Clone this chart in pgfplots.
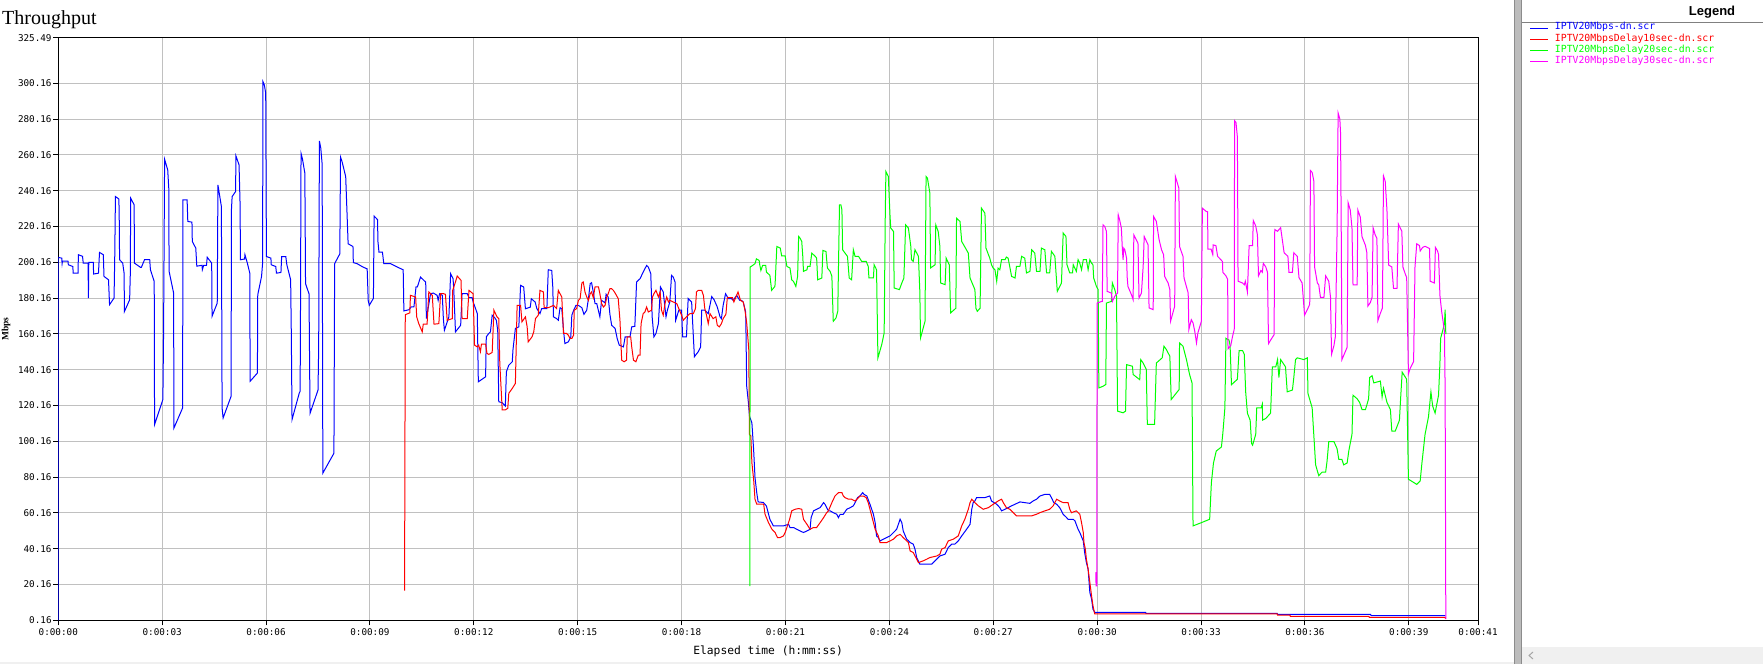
\documentclass[border=0pt]{standalone}
\usepackage{fontspec}
\setmainfont{Liberation Serif}
\newfontfamily\monofont{DejaVu Sans Mono}
\newfontfamily\sansfont{Liberation Sans}
\usepackage{pgfplots}
\pgfplotsset{compat=1.18}
\definecolor{gridgray}{RGB}{192,192,192}
\definecolor{sepgray}{RGB}{188,188,188}
\definecolor{sepdark}{RGB}{140,140,140}
\definecolor{pblue}{RGB}{0,0,255}
\definecolor{pred}{RGB}{255,0,0}
\definecolor{pgreen}{RGB}{0,255,0}
\definecolor{pmag}{RGB}{255,0,255}
\newcommand\tickfont{\monofont\fontsize{9.3bp}{11bp}\selectfont}
\newcommand\legtextfont{\monofont\fontsize{9.8bp}{11bp}\selectfont}
\begin{document}
\begin{tikzpicture}[x=1bp,y=1bp]
\path[use as bounding box] (0,0) rectangle (1763,664);
\fill[white] (0,0) rectangle (1763,664);
\fill[black!6] (0,0) rectangle (1514,2);
% legend pane
\fill[sepgray] (1514,0) rectangle (1522,664);
\draw[sepdark, line width=1bp] (1514.5,0) -- (1514.5,664);
\draw[sepdark, line width=1bp] (1521.5,0) -- (1521.5,664);
\fill[black!6] (1522,0) rectangle (1763,17);
\draw[black!35, line width=1bp] (1533,12) -- (1529,8.5) -- (1533,5);
\draw[black!50, line width=1bp] (1522,641.3) -- (1763,641.3);
\node[font=\sansfont\bfseries\fontsize{13bp}{15bp}\selectfont, anchor=base] at (1712,648.5) {Legend};
\node[font=\fontsize{20bp}{24bp}\selectfont, anchor=base west, inner sep=0pt] at (2,639) {Throughput};
\begin{axis}[
  at={(58.3bp,43.7bp)}, anchor=south west, scale only axis,
  width=1419.7bp, height=582.3bp,
  xmin=0, xmax=41, ymin=0.16, ymax=325.49,
  axis line style={black, line width=1bp},
  grid=major, grid style={gridgray, line width=1bp},
  xtick={0,3,6,9,12,15,18,21,24,27,30,33,36,39,41},
  xticklabels={0:00:00,0:00:03,0:00:06,0:00:09,0:00:12,0:00:15,0:00:18,0:00:21,0:00:24,0:00:27,0:00:30,0:00:33,0:00:36,0:00:39,0:00:41},
  ytick={0.16,20.16,40.16,60.16,80.16,100.16,120.16,140.16,160.16,180.16,200.16,220.16,240.16,260.16,280.16,300.16,325.49},
  yticklabels={0.16,20.16,40.16,60.16,80.16,100.16,120.16,140.16,160.16,180.16,200.16,220.16,240.16,260.16,280.16,300.16,325.49},
  tick align=outside, tick pos=left, major tick length=5bp,
  tick style={black, line width=1bp},
  ticklabel style={font=\tickfont},
  yticklabel style={anchor=east, inner sep=0pt, xshift=-1.5bp},
  xticklabel style={anchor=north, inner sep=0pt, yshift=-3bp},
  xlabel={Elapsed time (h:mm:ss)},
  xlabel style={font=\monofont\fontsize{11.3bp}{13bp}\selectfont, at={(axis description cs:0.5,0)}, anchor=center, yshift=-31bp},
  ylabel={Mbps},
  ylabel style={font=\bfseries\fontsize{9.5bp}{11bp}\selectfont, at={(axis description cs:-0.0368,0.5)}, anchor=center, rotate=0},
  legend style={at={(axis description cs:1.0366,1.0266)}, anchor=north west, draw=none, fill=none,
    inner sep=0pt, outer sep=0pt, font=\legtextfont, row sep=0pt,
    nodes={inner sep=0pt, text height=7.5bp, text depth=3.6bp},
    /tikz/every odd column/.append style={column sep=6bp}},
  legend cell align=left,
  legend image code/.code={\draw[#1, line width=1bp] (0bp,0bp) -- (18bp,0bp);},
  every axis plot/.append style={line width=1bp, line join=miter},
]
% blue
\addplot[pblue, sharp plot] coordinates {
(0,0.16) (0,202.9) (0.10,202.5) (0.11,199.5) (0.12,200.8) (0.28,200.8) (0.29,198.8) (0.42,197.8) (0.43,194.1) (0.57,194.1) (0.58,204.4) (0.70,203.5) (0.72,199.7) (0.86,199.7) (0.87,180.2) (0.88,200.1) (1.01,200.1) (1.02,193.6) (1.16,194.1) (1.19,205.7) (1.30,204.4) (1.32,192.3) (1.45,190.4) (1.48,176.5) (1.61,180.2) (1.63,203) (1.65,236.9) (1.75,235.5) (1.76,224) (1.77,201.6) (1.86,199.7) (1.90,194.1) (1.91,172.7) (2.06,179.2) (2.08,194.1) (2.09,236) (2.19,232.3) (2.20,199.7) (2.37,197.4) (2.40,197.4) (2.49,201.6) (2.64,201.6) (2.66,196) (2.77,189.5) (2.78,109.5) (3.02,123.5) (3.04,160.7) (3.07,257.7) (3.16,251.8) (3.19,241.6) (3.20,195.1) (3.33,183.0) (3.34,107.6) (3.59,118.8) (3.60,235.1) (3.72,235.1) (3.74,223) (3.86,222.6) (3.87,211.8) (3.97,208.1) (4.00,198) (4.15,198.5) (4.16,196) (4.20,198.5) (4.28,198.5) (4.30,203) (4.43,199.7) (4.44,170) (4.59,177.4) (4.61,243.4) (4.71,231.3) (4.73,118.8) (4.76,113.2) (4.99,125.3) (5.00,229.5) (5.02,236.9) (5.12,239.7) (5.13,259.6) (5.22,254.6) (5.25,232.3) (5.26,201.6) (5.38,202) (5.39,204.4) (5.46,199.7) (5.53,194.1) (5.54,133.7) (5.75,138.3) (5.76,182.0) (5.87,192.3) (5.90,199.7) (5.91,301.1) (5.95,299.3) (5.99,294.6) (6.01,203.4) (6.14,202.5) (6.15,198.8) (6.28,197.8) (6.30,194.1) (6.43,194.5) (6.45,203.4) (6.57,203.4) (6.60,198.8) (6.71,190.4) (6.73,158.8) (6.75,112.3) (6.96,127.2) (6.98,127.9) (6.99,148.3) (7.01,261) (7.05,258) (7.12,250) (7.14,188.2) (7.24,182.6) (7.27,115.8) (7.50,128.8) (7.52,153) (7.54,268) (7.58,264) (7.62,255) (7.63,164.1) (7.64,82.4) (7.96,93.5) (7.98,199.4) (8.13,204.9) (8.15,259) (8.20,256) (8.30,248) (8.37,210.5) (8.51,209) (8.52,200) (8.63,199.4) (8.80,197.5) (8.92,196.5) (8.95,178.9) (8.98,176.1) (9.10,180) (9.12,226) (9.22,224) (9.23,212) (9.26,205.9) (9.36,205.9) (9.40,199.4) (9.60,199.4) (9.79,197.5) (9.96,196) (9.98,173) (10.13,173.7) (10.19,175.2) (10.27,175.2) (10.33,186.4) (10.37,186.4) (10.46,191.9) (10.61,189.1) (10.63,168.7) (10.75,182.6) (10.83,183) (10.94,181.7) (10.97,178.9) (11.01,182.6) (11.09,181.7) (11.12,168.7) (11.15,162.2) (11.28,169.7) (11.33,193.8) (11.40,191) (11.42,185.4) (11.47,161.3) (11.62,165) (11.66,182.6) (11.81,182.6) (11.86,180.4) (11.95,180.4) (11.98,178) (12.05,174.3) (12.10,171.5) (12.13,133.4) (12.34,136.2) (12.36,158.5) (12.43,160.4) (12.48,161.3) (12.53,170.6) (12.60,169.3) (12.65,167.8) (12.69,162.2) (12.72,122.3) (12.82,121.7) (12.91,119.9) (12.94,139.0) (13.01,142.7) (13.11,144.6) (13.13,151.2) (13.20,163.2) (13.30,164.1) (13.35,187.3) (13.44,186.4) (13.49,174.2) (13.63,175.1) (13.66,179.8) (13.77,178) (13.82,174.3) (13.91,171.5) (13.96,174.3) (14.11,174.3) (14.15,196.0) (14.25,195.6) (14.28,186.4) (14.30,169.7) (14.39,168.7) (14.44,167.8) (14.49,174.8) (14.54,174.3) (14.59,162.2) (14.63,154.8) (14.73,155.7) (14.80,158.5) (14.83,170.6) (14.89,173.7) (14.95,176.1) (15.02,176.1) (15.12,174.8) (15.18,171.1) (15.26,173.4) (15.31,179.9) (15.36,188.2) (15.40,188.8) (15.45,183.6) (15.50,177.1) (15.55,177.1) (15.64,169.7) (15.69,178.9) (15.79,177.5) (15.82,182.3) (15.88,180.8) (15.93,171.1) (15.98,165.0) (16.08,163.2) (16.14,157.6) (16.20,153.9) (16.32,152.9) (16.37,158.5) (16.51,158.5) (16.56,164.1) (16.65,164.4) (16.70,189.2) (16.80,191.0) (16.89,194.7) (16.99,198.4) (17.04,197.5) (17.11,193.8) (17.15,169.7) (17.20,158.5) (17.26,160.4) (17.33,165.9) (17.39,186.4) (17.47,183.6) (17.55,169.7) (17.59,173.4) (17.66,178.0) (17.71,192.9) (17.76,191.9) (17.81,189.2) (17.83,167.8) (17.92,173.4) (18.00,173.4) (18.03,158.5) (18.14,158.5) (18.19,179.9) (18.29,178.0) (18.34,158.5) (18.37,147.4) (18.48,150.2) (18.55,152.9) (18.58,173.4) (18.67,173.4) (18.77,171.5) (18.87,181.0) (18.94,179.2) (19.03,175.2) (19.11,169.7) (19.15,168.7) (19.20,176.1) (19.27,182.6) (19.35,179.9) (19.44,179.9) (19.49,178.9) (19.59,181.7) (19.68,178.9) (19.73,178.9) (19.78,178.0) (19.85,172.4) (19.86,160.7) (19.88,131) (19.93,121.7) (19.96,114.2) (20.03,110.5) (20.08,95.6) (20.12,79.9) (20.17,71.5) (20.21,66.3) (20.36,66.0) (20.45,64.0) (20.50,60.3) (20.55,56.6) (20.65,52.9) (20.94,52.9) (21.09,53.8) (21.13,52.0) (21.23,52.0) (21.33,51.0) (21.42,50.1) (21.52,49.2) (21.62,50.1) (21.71,51.0) (21.74,57.5) (21.81,61.3) (21.90,62.2) (22.00,63.1) (22.10,65.9) (22.14,65.0) (22.19,63.1) (22.24,61.3) (22.29,61.3) (22.38,60.3) (22.48,59.4) (22.53,57.5) (22.58,59.4) (22.67,59.4) (22.77,62.2) (22.87,63.1) (22.96,64.1) (23.01,65.9) (23.08,68.7) (23.15,69.6) (23.23,71.5) (23.27,70.5) (23.35,69.6) (23.44,65.0) (23.54,59.4) (23.59,54.7) (23.63,47.3) (23.68,46.4) (23.73,44.5) (23.83,45.5) (23.92,46.4) (24.02,47.3) (24.12,49.2) (24.21,51.0) (24.31,56.6) (24.36,54.7) (24.40,50.1) (24.50,45.5) (24.60,43.6) (24.69,42.7) (24.74,39.9) (24.79,35.2) (24.88,31.5) (25.08,31.5) (25.22,31.5) (25.32,33.4) (25.46,36.1) (25.61,37.1) (25.70,40.8) (25.80,42.7) (25.89,42.7) (25.99,44.5) (26.09,47.3) (26.23,51.0) (26.33,53.8) (26.38,62.2) (26.42,65.9) (26.47,66.8) (26.52,68.7) (26.62,68.7) (26.76,68.7) (26.90,69.6) (26.95,66.8) (27.10,65.0) (27.19,63.1) (27.24,61.3) (27.34,62.2) (27.43,63.1) (27.53,64.1) (27.63,65.0) (27.77,66.3) (27.91,65.9) (28.06,65.5) (28.15,66.8) (28.25,67.8) (28.35,69.6) (28.49,70.5) (28.63,70.5) (28.68,68.7) (28.75,65.9) (28.83,65.0) (28.92,63.1) (29.02,59.4) (29.12,57.5) (29.16,56.6) (29.31,56.6) (29.36,55.7) (29.45,51.0) (29.50,49.2) (29.60,44.5) (29.64,38.0) (29.69,32.4) (29.74,28.7) (29.79,15.7) (29.84,12.0) (29.88,6.4) (29.93,4.6) (31.40,4.6) (31.41,4.0) (35.20,4.0) (35.21,3.4) (37.90,3.4) (37.91,2.8) (40.06,2.8)
};
\addlegendentry{\textcolor{pblue}{IPTV20Mbps-dn.scr}}
% red
\addplot[pred, sharp plot] coordinates {
(10.00,16.8) (10.02,170.9) (10.15,171.9) (10.17,181.7) (10.32,180.8) (10.35,169.7) (10.41,165.9) (10.51,161.3) (10.54,165.6) (10.65,165.6) (10.70,183.6) (10.80,181.7) (10.85,165.6) (10.99,165.9) (11.04,182.6) (11.13,182.6) (11.18,182.3) (11.23,167.8) (11.38,168.7) (11.39,184.5) (11.47,189.2) (11.52,192.5) (11.63,190.1) (11.66,168.7) (11.81,168.7) (11.86,184.5) (11.98,182.6) (12.02,153.9) (12.10,152.9) (12.14,153.9) (12.19,150.2) (12.22,154.4) (12.34,154.4) (12.38,149.3) (12.43,148.7) (12.53,149.8) (12.58,173.4) (12.67,169.7) (12.72,168.7) (12.75,143.7) (12.82,117.7) (12.91,117.7) (12.98,118.6) (13.01,127.0) (13.11,129.7) (13.20,132.5) (13.23,158.5) (13.25,176.1) (13.35,176.1) (13.39,166.9) (13.49,169.7) (13.54,164.1) (13.57,155.7) (13.68,158.5) (13.73,161.3) (13.78,168.7) (13.86,170.6) (13.91,184.5) (14.01,183.6) (14.03,174.8) (14.15,174.8) (14.20,175.2) (14.30,176.1) (14.39,174.3) (14.44,184.5) (14.49,182.6) (14.54,180.8) (14.59,160.4) (14.68,160.4) (14.73,159.4) (14.78,157.6) (14.83,157.6) (14.88,159.4) (14.90,173.4) (14.97,174.3) (15.02,178.9) (15.07,179.9) (15.12,188.6) (15.16,189.2) (15.21,183.6) (15.26,180.8) (15.31,178.9) (15.36,182.6) (15.40,183.6) (15.45,180.4) (15.50,186.4) (15.60,186.4) (15.64,182.6) (15.69,177.1) (15.74,175.2) (15.79,176.1) (15.84,180.8) (15.88,182.6) (15.93,185.4) (15.98,185.4) (16.03,184.5) (16.08,183.0) (16.17,179.9) (16.22,167.8) (16.27,145.5) (16.34,144.6) (16.41,145.5) (16.43,158.5) (16.53,158.5) (16.56,152.9) (16.61,145.5) (16.68,144.6) (16.75,148.3) (16.80,148.3) (16.83,165.9) (16.89,171.5) (16.94,172.4) (16.99,175.2) (17.04,172.4) (17.13,173.4) (17.16,180.8) (17.20,182.6) (17.26,184.5) (17.33,180.8) (17.38,183.6) (17.42,173.4) (17.47,170.6) (17.52,177.1) (17.57,180.8) (17.62,178.0) (17.66,178.9) (17.76,178.0) (17.86,177.1) (17.92,174.3) (18.00,170.6) (18.05,167.8) (18.14,169.7) (18.24,171.5) (18.34,171.5) (18.40,174.3) (18.43,183.6) (18.48,184.5) (18.58,184.5) (18.63,181.7) (18.67,174.3) (18.72,170.6) (18.77,165.9) (18.82,171.5) (18.91,168.7) (18.99,169.7) (19.03,165.0) (19.09,164.1) (19.15,165.9) (19.20,168.7) (19.28,171.1) (19.32,180.4) (19.38,180.4) (19.47,180.4) (19.51,178.0) (19.57,180.8) (19.63,183.6) (19.70,178.9) (19.78,178.0) (19.83,173.4) (19.88,166.3) (19.90,161.6) (19.94,151.4) (19.96,104.0) (20.00,103.1) (20.03,88.2) (20.08,78.9) (20.12,67.8) (20.17,65.0) (20.37,65.0) (20.41,59.4) (20.51,54.7) (20.61,51.0) (20.70,49.2) (20.77,46.4) (20.85,46.4) (20.94,47.3) (20.99,49.2) (21.04,52.0) (21.12,56.6) (21.18,61.3) (21.28,62.2) (21.38,62.6) (21.47,62.2) (21.52,56.6) (21.62,53.8) (21.71,51.0) (21.81,52.0) (21.90,52.0) (22.00,54.7) (22.10,57.5) (22.19,60.3) (22.24,61.3) (22.34,65.9) (22.43,69.6) (22.53,71.5) (22.63,71.5) (22.67,69.6) (22.72,68.7) (22.82,67.8) (22.91,67.8) (23.01,66.8) (23.11,68.7) (23.15,69.6) (23.25,69.6) (23.33,68.7) (23.39,65.9) (23.44,62.2) (23.49,58.5) (23.59,51.0) (23.68,47.3) (23.73,43.6) (23.92,43.6) (24.02,44.5) (24.12,45.5) (24.21,47.3) (24.31,48.2) (24.40,46.4) (24.50,44.5) (24.55,43.6) (24.60,38.9) (24.69,38.0) (24.79,34.3) (24.84,32.4) (24.98,33.4) (25.08,34.3) (25.17,35.2) (25.37,36.1) (25.46,37.1) (25.51,39.9) (25.61,40.8) (25.70,44.5) (25.85,45.5) (25.99,47.3) (26.09,52.9) (26.18,56.6) (26.28,62.2) (26.33,65.9) (26.38,67.8) (26.47,65.9) (26.57,64.1) (26.71,62.2) (26.86,63.1) (27.00,65.0) (27.14,66.8) (27.24,67.8) (27.29,65.9) (27.38,63.1) (27.48,62.2) (27.58,60.3) (27.67,58.5) (28.11,58.5) (28.25,59.4) (28.35,60.3) (28.49,61.3) (28.63,62.2) (28.73,64.1) (28.83,67.8) (28.92,66.8) (29.02,65.9) (29.16,65.9) (29.21,62.2) (29.26,60.3) (29.40,61.3) (29.50,59.4) (29.55,54.7) (29.60,49.2) (29.62,43.6) (29.66,39.9) (29.69,34.3) (29.74,28.7) (29.79,21.3) (29.84,13.8) (29.88,8.3) (29.93,3.8) (35.20,3.8) (35.21,3.0) (35.57,3.0) (35.58,2.4) (37.85,2.4) (37.86,1.8) (40.06,1.8) (40.06,0.9)
};
\addlegendentry{\textcolor{pred}{IPTV20MbpsDelay10sec-dn.scr}}
% green
\addplot[pgreen, sharp plot] coordinates {
(19.97,19.2) (19.98,197.5) (20.05,198.4) (20.12,199.4) (20.16,202.1) (20.24,201.2) (20.26,198.4) (20.29,195.6) (20.34,198.4) (20.43,198.4) (20.45,194.7) (20.55,192.9) (20.60,184.5) (20.69,186.6) (20.70,187.7) (20.75,209.0) (20.85,208.1) (20.89,203.8) (20.99,203.8) (21.04,197.9) (21.13,197.0) (21.18,190.4) (21.23,189.5) (21.30,186.7) (21.35,192.3) (21.38,214.6) (21.42,213.7) (21.47,211.8) (21.50,203.5) (21.52,195.1) (21.62,196.0) (21.64,197.9) (21.71,197.9) (21.76,205.3) (21.86,203.5) (21.90,202.5) (21.93,190.4) (22.05,191.4) (22.08,206.8) (22.17,206.2) (22.21,197.0) (22.29,195.1) (22.34,192.3) (22.38,167.2) (22.46,169.1) (22.51,172.8) (22.56,232.3) (22.60,232.3) (22.63,229.5) (22.65,207.2) (22.72,205.3) (22.79,203.5) (22.84,191.4) (22.91,190.4) (22.96,207.2) (23.01,203.5) (23.11,203.5) (23.20,200.7) (23.33,200.7) (23.39,197.9) (23.41,191.4) (23.54,191.4) (23.56,198.8) (23.63,196.0) (23.67,146.8) (23.78,154.2) (23.85,160.7) (23.88,223.0) (23.90,250.9) (23.97,248.1) (24.02,225.8) (24.04,219.3) (24.12,217.4) (24.14,185.8) (24.29,184.9) (24.36,188.6) (24.42,191.4) (24.47,221.1) (24.55,219.3) (24.62,209.0) (24.64,201.6) (24.69,200.7) (24.74,207.2) (24.84,203.5) (24.88,183.9) (24.90,157.9) (25.03,167.2) (25.06,248.1) (25.10,247.2) (25.17,238.8) (25.19,197.0) (25.32,198.8) (25.34,221.1) (25.41,217.4) (25.46,209.0) (25.48,188.6) (25.61,187.7) (25.64,202.5) (25.73,198.8) (25.77,171.9) (25.92,174.5) (25.94,224.8) (26.04,223.0) (26.09,211.8) (26.28,205.3) (26.33,191.4) (26.47,184.9) (26.50,174.5) (26.54,172.8) (26.62,174.5) (26.66,230.4) (26.76,227.6) (26.79,208.1) (26.90,202.5) (26.95,198.8) (27.00,196.9) (27.05,196.0) (27.10,189.5) (27.14,196.9) (27.19,196.0) (27.24,201.6) (27.34,201.6) (27.38,203.1) (27.43,202.5) (27.53,192.3) (27.63,191.4) (27.67,197.9) (27.77,197.9) (27.82,203.5) (27.91,202.5) (27.96,194.2) (28.06,195.1) (28.11,207.2) (28.20,205.3) (28.25,195.1) (28.35,195.1) (28.39,208.1) (28.49,207.2) (28.54,194.2) (28.63,194.2) (28.68,206.3) (28.78,203.5) (28.85,183.9) (28.97,188.6) (29.02,216.5) (29.10,214.6) (29.13,198.8) (29.21,194.2) (29.29,194.2) (29.31,198.8) (29.40,195.1) (29.45,201.6) (29.50,199.7) (29.55,196.0) (29.60,201.6) (29.69,201.6) (29.74,196.0) (29.79,201.6) (29.84,199.7) (29.88,198.8) (29.90,191.4) (29.98,186.7) (30.03,184.9) (30.05,130.0) (30.17,130.9) (30.25,131.9) (30.27,177.4) (30.41,178.3) (30.44,188.6) (30.51,184.9) (30.56,181.2) (30.59,117.0) (30.75,116.1) (30.82,117.0) (30.85,143.0) (31.02,142.1) (31.04,137.5) (31.23,134.6) (31.26,145.8) (31.33,143.9) (31.42,140.3) (31.45,109.6) (31.66,109.6) (31.71,143.9) (31.88,146.8) (31.93,153.3) (32.00,151.4) (32.10,147.7) (32.14,123.5) (32.29,127.2) (32.37,129.1) (32.38,155.1) (32.48,153.3) (32.58,145.8) (32.67,137.5) (32.74,132.8) (32.77,52.9) (33.01,54.7) (33.25,56.6) (33.30,77.1) (33.36,88.0) (33.44,94.7) (33.59,97.0) (33.63,104.5) (33.69,118.9) (33.72,157.7) (33.81,156.7) (33.84,153.7) (33.88,131.8) (34.05,134.8) (34.10,150.8) (34.20,150.8) (34.25,148.8) (34.29,127.8) (34.34,115.9) (34.42,111.9) (34.46,99.0) (34.49,98.0) (34.58,104.0) (34.61,118.9) (34.74,118.9) (34.77,120.9) (34.78,112.0) (34.87,112.9) (35.01,115.9) (35.06,141.8) (35.16,141.8) (35.21,145.8) (35.25,135.8) (35.30,145.8) (35.44,141.8) (35.49,127.8) (35.64,128.8) (35.68,135.8) (35.73,145.8) (35.78,146.8) (35.97,145.8) (36.07,146.8) (36.09,126.8) (36.21,118.9) (36.31,87.0) (36.40,81.0) (36.50,83.0) (36.60,83.0) (36.64,89.0) (36.69,100.0) (36.84,100.0) (36.93,96.0) (36.98,90.0) (37.07,90.0) (37.12,87.0) (37.22,88.0) (37.27,95.0) (37.36,104.0) (37.39,125.9) (37.51,123.9) (37.58,121.9) (37.65,117.9) (37.75,117.9) (37.84,123.9) (37.87,135.8) (37.94,136.8) (37.99,132.8) (38.18,133.8) (38.23,124.9) (38.27,129.8) (38.32,125.9) (38.37,121.9) (38.47,117.9) (38.51,105.9) (38.61,105.9) (38.73,111.9) (38.77,125.9) (38.81,138.8) (38.94,134.8) (38.99,79.0) (39.23,76.1) (39.33,78.0) (39.38,88.0) (39.47,104.0) (39.57,113.9) (39.64,127.8) (39.69,119.9) (39.76,115.9) (39.86,125.9) (39.90,143.8) (39.92,157.7) (40.03,165.7) (40.05,173.7) (40.07,160)
};
\addlegendentry{\textcolor{pgreen}{IPTV20MbpsDelay20sec-dn.scr}}
% magenta
\addplot[pmag, sharp plot] coordinates {
(29.96,27) (29.97,19.4) (29.99,19.4) (30.00,177.4) (30.13,178.3) (30.15,178.3) (30.17,221.1) (30.22,220.2) (30.27,217.4) (30.29,183.9) (30.41,183.0) (30.44,178.3) (30.51,181.2) (30.59,183.0) (30.61,226.7) (30.65,223.9) (30.70,219.3) (30.73,207.2) (30.75,201.6) (30.77,208.1) (30.80,207.2) (30.85,202.5) (30.87,191.4) (30.89,186.7) (30.99,182.1) (31.04,179.3) (31.06,215.5) (31.13,212.8) (31.18,210.9) (31.21,180.2) (31.28,183.0) (31.33,197.9) (31.36,214.6) (31.47,210.0) (31.50,174.7) (31.62,173.7) (31.63,225.8) (31.71,223.0) (31.79,212.8) (31.86,207.2) (31.92,204.4) (31.95,192.3) (32.05,188.6) (32.10,184.9) (32.12,167.2) (32.24,175.6) (32.26,248.1) (32.29,246.2) (32.36,241.6) (32.38,209.0) (32.48,203.5) (32.51,191.4) (32.63,183.0) (32.65,162.6) (32.72,168.1) (32.77,166.3) (32.82,161.6) (32.87,155.1) (32.91,160.7) (33.01,167.2) (33.04,230.4) (33.15,228.6) (33.19,228.4) (33.20,207.5) (33.29,207.5) (33.34,204.5) (33.35,209.9) (33.43,209.5) (33.48,203.5) (33.53,202.5) (33.62,200.6) (33.63,194.6) (33.72,192.6) (33.77,190.6) (33.78,151.8) (33.86,153.7) (33.91,158.7) (33.96,162.7) (33.97,279.3) (34.01,278.3) (34.05,270.3) (34.06,235.4) (34.07,189.6) (34.20,188.6) (34.25,187.6) (34.28,189.6) (34.34,183.6) (34.39,209.5) (34.49,209.5) (34.51,223.5) (34.58,220.5) (34.63,215.5) (34.66,192.6) (34.73,195.6) (34.77,194.6) (34.80,199.6) (34.87,197.6) (34.92,194.6) (34.95,154.7) (35.01,156.7) (35.11,159.7) (35.13,218.5) (35.21,217.5) (35.30,219.5) (35.40,205.5) (35.51,203.5) (35.54,194.6) (35.64,194.6) (35.68,205.5) (35.78,203.5) (35.83,191.6) (35.92,188.6) (35.99,170.7) (36.07,173.7) (36.14,176.7) (36.16,251.4) (36.21,250.4) (36.26,245.4) (36.28,197.6) (36.36,188.6) (36.40,187.6) (36.45,180.6) (36.55,180.6) (36.60,192.6) (36.69,189.6) (36.74,180.6) (36.77,148.8) (36.84,153.7) (36.88,158.7) (36.93,217.5) (36.96,283.6) (37.01,280.2) (37.03,272.3) (37.05,217.5) (37.07,145.8) (37.22,152.7) (37.25,233.4) (37.31,229.4) (37.36,219.5) (37.39,187.6) (37.51,187.6) (37.53,229.4) (37.60,225.4) (37.65,214.5) (37.75,209.5) (37.79,205.5) (37.82,175.7) (37.89,177.7) (37.94,180.6) (37.97,219.5) (38.03,215.5) (38.08,213.5) (38.11,167.7) (38.18,171.7) (38.24,174.7) (38.27,248.4) (38.32,245.4) (38.37,229.4) (38.42,198.6) (38.51,197.6) (38.56,185.6) (38.66,185.6) (38.70,221.5) (38.75,219.5) (38.80,217.5) (38.83,197.6) (38.90,193.6) (38.94,191.6) (38.99,137.8) (39.04,140.8) (39.14,144.8) (39.18,197.6) (39.23,210.5) (39.31,209.5) (39.33,206.5) (39.40,208.5) (39.47,209.1) (39.60,207.9) (39.62,189.6) (39.74,188.6) (39.77,208.5) (39.83,206.5) (39.86,204.5) (39.90,181.6) (39.95,172.7) (40.03,161.7) (40.05,129.8) (40.07,0.8)
};
\addlegendentry{\textcolor{pmag}{IPTV20MbpsDelay30sec-dn.scr}}
\end{axis}
\end{tikzpicture}
\end{document}
